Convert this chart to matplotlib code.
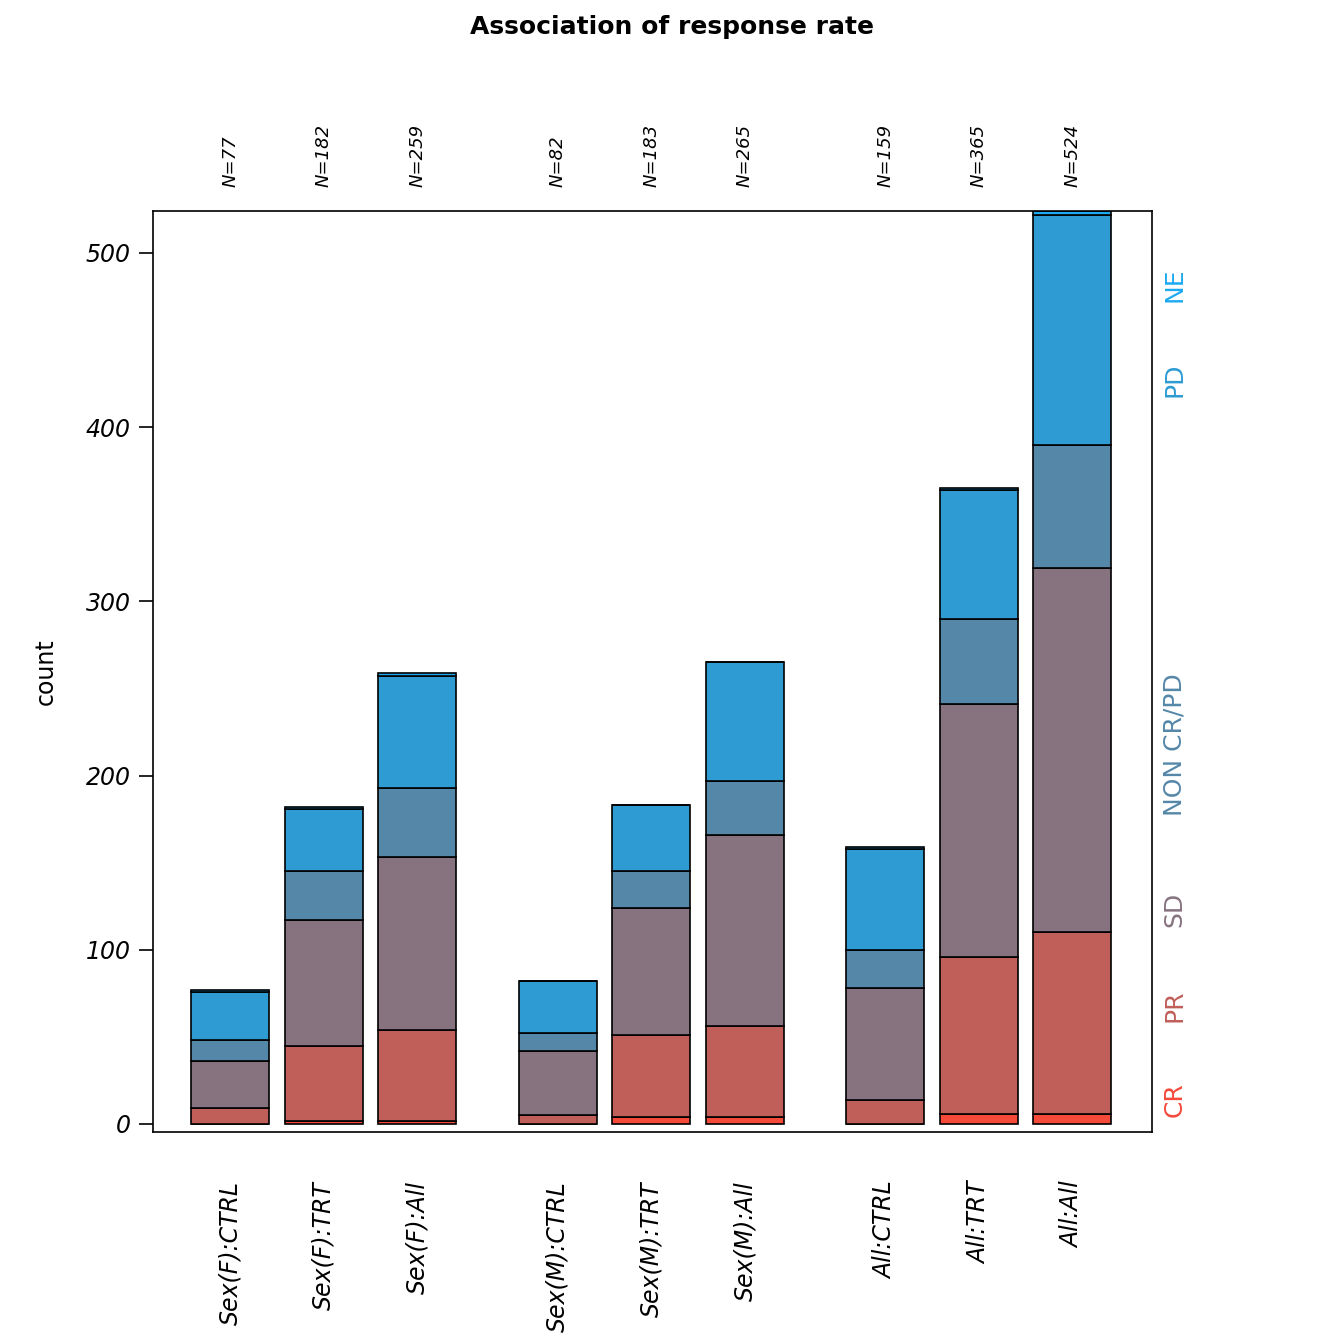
import matplotlib
matplotlib.use("Agg")
import matplotlib.pyplot as plt
import numpy as np

groups = ["Sex(F):CTRL", "Sex(F):TRT", "Sex(F):All", "Sex(M):CTRL", "Sex(M):TRT", "Sex(M):All",
          "All:CTRL", "All:TRT", "All:All"]
totals = [77, 182, 259, 82, 183, 265, 159, 365, 524]
categories = ["CR", "PR", "SD", "NON CR/PD", "PD", "NE"]
CR = [0, 2, 2, 0, 4, 4, 0, 6, 6]
PR = [9, 43, 52, 5, 47, 52, 14, 90, 104]
SD = [27, 72, 99, 37, 73, 110, 64, 145, 209]
NON = [12, 28, 40, 10, 21, 31, 22, 49, 71]
PD = [28, 36, 64, 30, 38, 68, 58, 74, 132]
NE = [1, 1, 2, 0, 0, 0, 1, 1, 2]
series = [CR, PR, SD, NON, PD, NE]
colors = ["#F5493A", "#C05F5A", "#877380", "#5587A8", "#2E9BD3", "#1CA9F2"]
label_colors = ["#F5493A", "#C05F5A", "#877380", "#5587A8", "#2E9BD3", "#1CA9F2"]
label_y = [14, 68, 123, 218, 427, 482]

pos = [0, 1.2, 2.4, 4.2, 5.4, 6.6, 8.4, 9.6, 10.8]

fig = plt.figure(figsize=(13.44, 13.44), dpi=100)
ax = fig.add_axes([153/1344, 1-1132/1344, (1152-153)/1344, (1132-211)/1344])
bottom = np.zeros(len(groups))
for vals, c in zip(series, colors):
    ax.bar(pos, vals, width=1.0, bottom=bottom, color=c, edgecolor="black", linewidth=1.2)
    bottom += np.array(vals)
ax.set_xlim(-0.99, 11.82)
ax.set_ylim(-4.6, 524.1)
ax.set_yticks([0, 100, 200, 300, 400, 500])
ax.set_yticklabels(["0", "100", "200", "300", "400", "500"], fontsize=17, style="italic", rotation=0)
ax.tick_params(axis="y", length=10, width=1.2, pad=6, direction="out")
ax.set_xticks([])
for s in ax.spines.values():
    s.set_linewidth(1.2)
ax.set_ylabel("count", fontsize=17, labelpad=20)
for p, g in zip(pos, groups):
    ax.text(p, -33, g, rotation=90, ha="center", va="top", fontsize=17, style="italic", clip_on=False)
for p, n in zip(pos, totals):
    ax.text(p, 538, f"N={n}", rotation=90, ha="center", va="bottom", fontsize=13, style="italic", clip_on=False)
for cat, c, yy in zip(categories, label_colors, label_y):
    ax.text(11.95, yy, cat, rotation=90, ha="left", va="center", fontsize=18, color=c, clip_on=False)
fig.suptitle("Association of response rate", fontsize=18, fontweight="bold", y=1-27/1344, va="center")
fig.savefig("out.png", dpi=100)
